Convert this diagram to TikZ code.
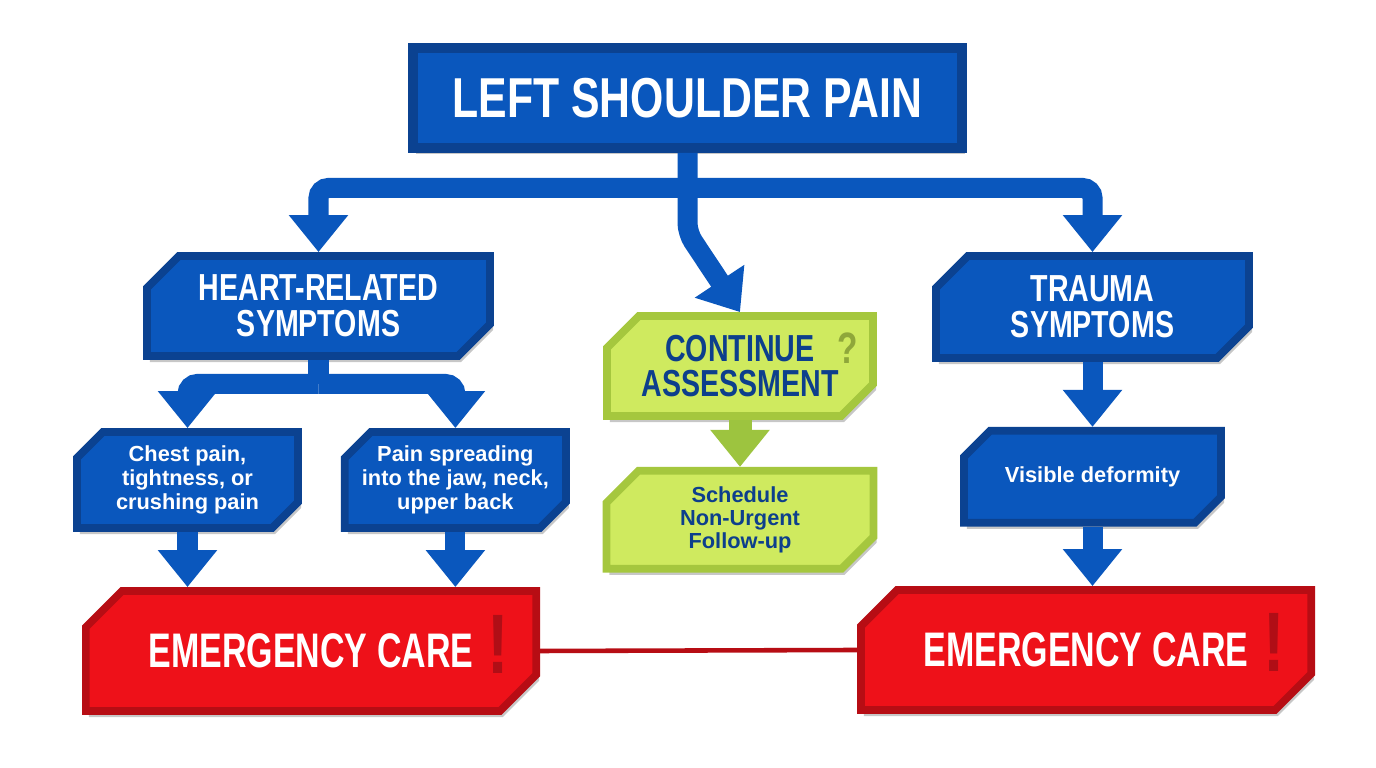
\documentclass[tikz,border=0pt]{standalone}
\usepackage{fontspec}
\setmainfont{Liberation Sans}
\newfontfamily\condfont[FakeStretch=0.76]{Liberation Sans}
\newfontfamily\narrowfont[FakeStretch=0.70]{Liberation Sans}
\usepackage{xcolor}
\usetikzlibrary{positioning,arrows.meta,shapes.misc,shadows}
\definecolor{slpBlue}{HTML}{0A57BD}
\definecolor{slpBlueEdge}{HTML}{0B4291}
\definecolor{slpRed}{HTML}{EE1119}
\definecolor{slpRedEdge}{HTML}{B70D14}
\definecolor{slpBang}{HTML}{B00E16}
\definecolor{slpLime}{HTML}{CFEA5F}
\definecolor{slpLimeEdge}{HTML}{A5C73E}
\definecolor{slpLimeArrow}{HTML}{9DC43F}
\definecolor{slpQuery}{HTML}{8FA73A}
\definecolor{slpInk}{HTML}{0D3F8C}

\begin{document}
\begin{tikzpicture}[x=0.01cm, y=-0.01cm, node distance=0.55cm,
    shade/.style={drop shadow={shadow xshift=0.03cm, shadow yshift=-0.06cm,
                  opacity=0.22, fill=black}},
    cbox/.style={chamfered rectangle, chamfered rectangle corners={north west,south east},
                 chamfered rectangle xsep=0.16cm, chamfered rectangle ysep=0.16cm,
                 line width=2.2pt, align=center, inner sep=0pt, shade},
    bluebox/.style={cbox, draw=slpBlueEdge, fill=slpBlue, text=white},
    limebox/.style={cbox, draw=slpLimeEdge, fill=slpLime, text=slpInk},
    redbox/.style={cbox, draw=slpRedEdge, fill=slpRed, text=white,
                   chamfered rectangle xsep=0.19cm, chamfered rectangle ysep=0.19cm,
                   minimum width=4.50cm, minimum height=1.20cm,
                   font=\narrowfont\bfseries\fontsize{13.8}{15}\selectfont},
    headfont/.style={font=\condfont\bfseries\fontsize{10.7}{10.2}\selectfont},
    smallfont/.style={font=\bfseries\fontsize{6.2}{6.8}\selectfont},
    conn/.style={draw=slpBlue, line width=0.2cm, rounded corners=0.1cm,
                 -{Triangle[width=0.57cm,length=0.37cm]}},
    limeconn/.style={conn, draw=slpLimeArrow, line width=0.23cm},
    redline/.style={draw=slpRedEdge, line width=1.3pt},
    bangmark/.style={text=slpBang, inner sep=0pt,
                     font=\condfont\bfseries\fontsize{24}{24}\selectfont}]
    \useasboundingbox[fill=white] (0,0) rectangle (1376,768);

    % top and first row
    \node[draw=slpBlueEdge, fill=slpBlue, text=white, line width=2.8pt, shade,
          minimum width=5.49cm, minimum height=1.00cm,
          font=\condfont\bfseries\fontsize{16}{18}\selectfont] (shoulder) at (687.5,98) {LEFT SHOULDER PAIN};
    \node[bluebox,headfont,minimum width=3.43cm,minimum height=1.00cm] (heart) at (318.5,306) {HEART-RELATED\\SYMPTOMS};
    \node[limebox,headfont,minimum width=2.66cm,minimum height=1.00cm] (assess) at (740,366) {CONTINUE\\ASSESSMENT};
    \node[bluebox,headfont,minimum width=3.13cm,minimum height=1.02cm] (trauma) at (1092.5,307) {TRAUMA\\SYMPTOMS};

    % symptom boxes
    \node[bluebox,smallfont,minimum width=2.21cm,minimum height=0.96cm,
          chamfered rectangle xsep=0.13cm,chamfered rectangle ysep=0.13cm] (chest) at (187.5,480) {Chest pain,\\tightness, or\\crushing pain};
    \node[bluebox,smallfont,minimum width=2.21cm,minimum height=0.96cm,
          chamfered rectangle xsep=0.13cm,chamfered rectangle ysep=0.13cm,
          right=0.39cm of chest] (spread) {Pain spreading\\into the jaw, neck,\\upper back};
    \node[limebox,font=\bfseries\fontsize{6.2}{6.5}\selectfont,minimum width=2.67cm,minimum height=0.88cm,
          below=0.47cm of assess] (followup) {Schedule\\Non-Urgent\\Follow-up};
    \node[bluebox,smallfont,minimum width=2.57cm,minimum height=0.92cm,
          below=0.65cm of trauma] (deform) {Visible deformity};

    % emergency boxes
    \node[redbox] (erLeft)  at (311,651)  {EMERGENCY CARE};
    \node[redbox] (erRight) at (1086,650) {EMERGENCY CARE};
    \node[bangmark] (bangLeft)  at (498,644)  {!};
    \node[bangmark] (bangRight) at (1274,642) {!};
    \node[text=slpQuery,inner sep=0pt,font=\condfont\bfseries\fontsize{12.5}{12.5}\selectfont] (query) at (848,348) {?};

    \coordinate (fork) at (687.5,188);
    \coordinate (heartfork) at (318.5,384);

    \draw[conn] (shoulder.south) -- (fork) -- ++(0,45) -- (assess.north);
    \draw[conn] (fork) -| (heart.north);
    \draw[conn] (fork) -| (trauma.north);
    \draw[conn,-] (heart.south) -- (heartfork);
    \draw[conn] (heartfork) -| (chest.north);
    \draw[conn] (heartfork) -| (spread.north);
    \draw[limeconn] (assess.south) -- (followup.north);
    \draw[conn] (trauma.south) -- (deform.north);
    \draw[conn] (chest.south) -- (chest.south |- erLeft.north);
    \draw[conn] (spread.south) -- (spread.south |- erLeft.north);
    \draw[conn] (deform.south) -- (deform.south |- erRight.north);
    \draw[redline] (erLeft.east) -- (erRight.west);
  \end{tikzpicture}
\end{document}
